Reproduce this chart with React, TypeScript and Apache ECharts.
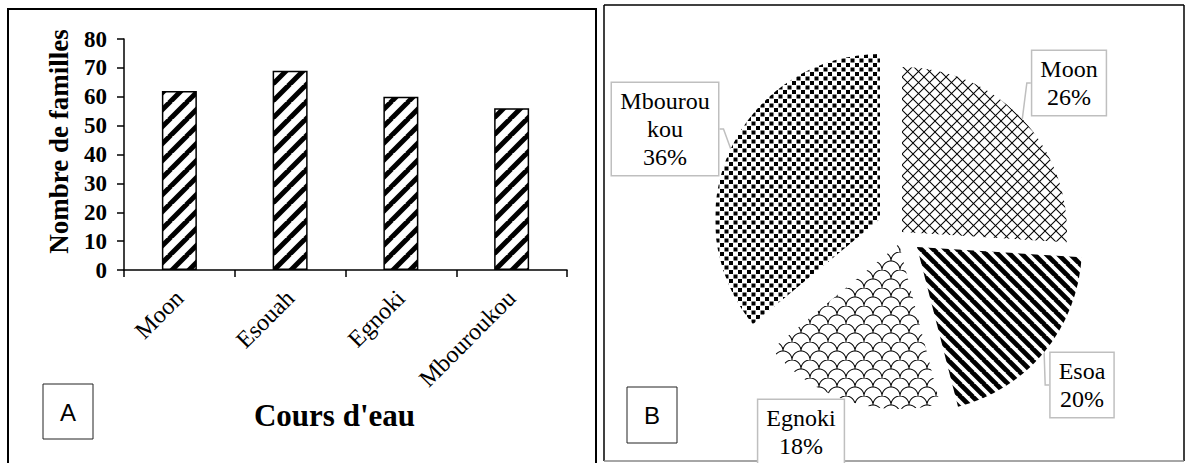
import React, { useEffect, useRef } from "react";
import * as echarts from "echarts";

// ---- Data ----
const barCategories = ["Moon", "Esouah", "Egnoki", "Mbouroukou"];
const barValues = [62, 69, 60, 56];
const yMin = 0;
const yMax = 80;
const yInterval = 10;

const pieNames = ["Moon", "Esoa", "Egnoki", "Mbouroukou"];
const pieValues = [26, 20, 18, 36];

// ---- Layout (positions only) ----
const pieRadius = 165;
const pieCenters: [number, number][] = [
  [902, 232],
  [917, 247],
  [899, 244],
  [880, 219],
];
const pieLabelPos: [number, number][] = [
  [1069, 83],
  [1082, 385],
  [801, 432],
  [665, 129],
];

const SERIF = "'Liberation Serif', 'Times New Roman', serif";

type Pat = { image: string; repeat: string; imageWidth: number; imageHeight: number };

const RES = 2;

function makeTile(w: number, h: number, draw: (ctx: CanvasRenderingContext2D) => void): Pat {
  const c = document.createElement("canvas");
  c.width = w * RES;
  c.height = h * RES;
  const ctx = c.getContext("2d") as CanvasRenderingContext2D;
  ctx.scale(RES, RES);
  ctx.fillStyle = "#fff";
  ctx.fillRect(0, 0, w, h);
  ctx.strokeStyle = "#000";
  ctx.fillStyle = "#000";
  draw(ctx);
  return { image: c.toDataURL(), repeat: "repeat", imageWidth: w, imageHeight: h };
}

function barHatch(): Pat {
  const s = 17;
  return makeTile(s, s, (ctx) => {
    ctx.lineWidth = 5;
    for (const k of [-1, 0, 1]) {
      ctx.beginPath();
      ctx.moveTo(k * s - 1, s + 1);
      ctx.lineTo(k * s + s + 1, -1);
      ctx.stroke();
    }
  });
}

function moonHatch(): Pat {
  const s = 11;
  return makeTile(s, s, (ctx) => {
    ctx.lineWidth = 1;
    for (const k of [-1, 0, 1]) {
      ctx.beginPath();
      ctx.moveTo(k * s, 0);
      ctx.lineTo(k * s + s, s);
      ctx.stroke();
      ctx.beginPath();
      ctx.moveTo(k * s, s);
      ctx.lineTo(k * s + s, 0);
      ctx.stroke();
    }
  });
}

function esoaHatch(): Pat {
  const s = 12;
  return makeTile(s, s, (ctx) => {
    ctx.lineWidth = 4.8;
    for (const k of [-1, 0, 1]) {
      ctx.beginPath();
      ctx.moveTo(k * s - 1, -1);
      ctx.lineTo(k * s + s + 1, s + 1);
      ctx.stroke();
    }
  });
}

function egnokiHatch(): Pat {
  const r = 9;
  const w = 2 * r;
  const h = 2 * r;
  return makeTile(w, h, (ctx) => {
    ctx.lineWidth = 1;
    const arcs: [number, number][] = [
      [r, h],
      [0, r],
      [w, r],
      [r, 0],
      [-r, h],
      [w + r, h],
    ];
    for (const [cx, cy] of arcs) {
      ctx.beginPath();
      ctx.arc(cx, cy, r, Math.PI, 2 * Math.PI);
      ctx.stroke();
    }
  });
}

function mbourHatch(): Pat {
  const s = 9;
  return makeTile(s, s, (ctx) => {
    ctx.fillRect(0, 0, 4, 4);
    ctx.fillRect(4.5, 4.5, 4, 4);
  });
}

export default function App() {
  const ref = useRef<HTMLDivElement>(null);

  useEffect(() => {
    if (!ref.current) return;
    const chart = echarts.init(ref.current, undefined, { renderer: "svg" });

    const piePatterns = [moonHatch(), esoaHatch(), egnokiHatch(), mbourHatch()];
    const barPattern = barHatch();

    const pieSeries = pieNames.map((_, k) => ({
      type: "pie",
      silent: true,
      center: pieCenters[k],
      radius: pieRadius,
      startAngle: 90,
      clockwise: true,
      avoidLabelOverlap: false,
      z: 3,
      label: {
        show: false,
        position: "outside",
        formatter: (p: any) => `${p.name}\n${Math.round(p.percent)}%`,
        fontFamily: SERIF,
        fontSize: 24,
        lineHeight: 28,
        color: "#000",
        align: "center",
        backgroundColor: "#fff",
        borderColor: "#bfbfbf",
        borderWidth: 1.5,
        padding: [4, 8, 4, 8],
      },
      labelLine: {
        show: false,
        length: 6,
        length2: 4,
        lineStyle: { color: "#bfbfbf", width: 1.5 },
      },
      labelLayout: (params: any) => {
        if (params.dataIndex !== k) return {};
        return {
          x: pieLabelPos[k][0],
          y: pieLabelPos[k][1],
          align: "center",
          verticalAlign: "middle",
        };
      },
      data: pieNames.map((name, i) => ({
        name,
        value: pieValues[i],
        itemStyle: {
          color: i === k ? (piePatterns[i] as any) : "rgba(0,0,0,0)",
          borderWidth: 0,
        },
        label:
          i === k
            ? name === "Mbouroukou"
              ? { show: true, width: 90, overflow: "breakAll" }
              : { show: true }
            : { show: false },
        labelLine: { show: i === k && name !== "Egnoki" },
      })),
    }));

    chart.setOption({
      animation: false,
      backgroundColor: "#fff",
      grid: {
        left: 124,
        right: 1186 - 567,
        top: 39,
        bottom: 463 - 270,
        containLabel: false,
      },
      xAxis: {
        type: "category",
        data: barCategories,
        name: "Cours d'eau",
        nameLocation: "middle",
        nameGap: 130,
        nameTextStyle: {
          fontFamily: SERIF,
          fontWeight: "bold",
          fontSize: 31,
          color: "#000",
          padding: [0, 22, 0, 0],
        },
        axisLine: { lineStyle: { color: "#000", width: 1.5 } },
        axisTick: { show: true, length: 7, inside: false, lineStyle: { color: "#000", width: 1.5 } },
        axisLabel: {
          rotate: 45,
          interval: 0,
          margin: 24,
          fontFamily: SERIF,
          fontSize: 24,
          color: "#000",
        },
        splitLine: { show: false },
      },
      yAxis: {
        type: "value",
        min: yMin,
        max: yMax,
        interval: yInterval,
        name: "Nombre de familles",
        nameLocation: "middle",
        nameGap: 52,
        nameRotate: 90,
        nameTextStyle: {
          fontFamily: SERIF,
          fontWeight: "bold",
          fontSize: 27,
          color: "#000",
          padding: [0, 0, 0, 26],
        },
        axisLine: { show: true, lineStyle: { color: "#000", width: 1.5 } },
        axisTick: { show: true, length: 7, inside: false, lineStyle: { color: "#000", width: 1.5 } },
        axisLabel: {
          margin: 17,
          fontFamily: SERIF,
          fontWeight: "bold",
          fontSize: 23,
          color: "#000",
        },
        splitLine: { show: false },
      },
      series: [
        {
          type: "bar",
          silent: true,
          data: barValues,
          barWidth: 35,
          itemStyle: {
            color: barPattern as any,
            borderColor: "#000",
            borderWidth: 1.5,
          },
        },
        ...pieSeries,
      ],
      graphic: [
        {
          type: "rect",
          silent: true,
          shape: { x: 8, y: 9, width: 588, height: 470 },
          style: { fill: "none", stroke: "#000", lineWidth: 2 },
        },
        {
          type: "line",
          silent: true,
          shape: { x1: 604, y1: 5, x2: 1184, y2: 5 },
          style: { stroke: "#000", lineWidth: 1.5 },
        },
        {
          type: "line",
          silent: true,
          shape: { x1: 604, y1: 5, x2: 604, y2: 461 },
          style: { stroke: "#000", lineWidth: 1.5 },
        },
        {
          type: "line",
          silent: true,
          shape: { x1: 1184, y1: 5, x2: 1184, y2: 461 },
          style: { stroke: "#000", lineWidth: 1.5 },
        },
        {
          type: "line",
          silent: true,
          shape: { x1: 604, y1: 461, x2: 1184, y2: 461 },
          style: { stroke: "#888", lineWidth: 1.5 },
        },
        {
          type: "rect",
          silent: true,
          shape: { x: 43, y: 384, width: 50, height: 55 },
          style: { fill: "#fff", stroke: "#222", lineWidth: 1 },
        },
        {
          type: "text",
          silent: true,
          x: 68,
          y: 412,
          style: {
            text: "A",
            fontFamily: "'Liberation Sans', Arial, sans-serif",
            fontSize: 24,
            fill: "#000",
            align: "center",
            verticalAlign: "middle",
          },
        },
        {
          type: "rect",
          silent: true,
          shape: { x: 627, y: 387, width: 50, height: 56 },
          style: { fill: "#fff", stroke: "#222", lineWidth: 1 },
        },
        {
          type: "text",
          silent: true,
          x: 652,
          y: 415,
          style: {
            text: "B",
            fontFamily: "'Liberation Sans', Arial, sans-serif",
            fontSize: 24,
            fill: "#000",
            align: "center",
            verticalAlign: "middle",
          },
        },
      ],
    });

    return () => {
      chart.dispose();
    };
  }, []);

  return (
    <div
      ref={ref}
      style={{ position: "absolute", left: 0, top: 0, width: 1186, height: 463 }}
    />
  );
}
